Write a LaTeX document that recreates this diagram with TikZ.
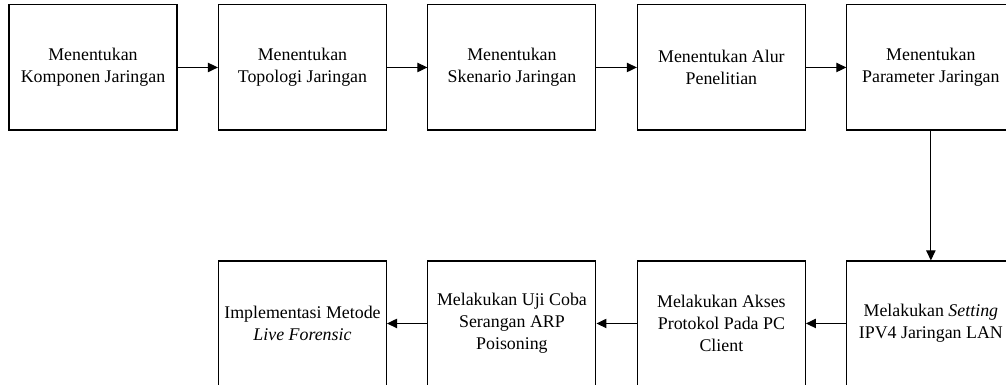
\documentclass[tikz,border=0pt]{standalone}
\usepackage{fontspec}
\setmainfont{Liberation Serif}
\usetikzlibrary{arrows.meta}
\newcommand{\s}{157.1pt}

\begin{document}
\begin{tikzpicture}[box/.style={draw, rectangle, minimum width=126pt, minimum height=93.75pt, align=center, inner sep=0pt, line width=0.8pt, font=\fontsize{13.4}{16.5}\selectfont},
    arrow/.style={-{Triangle[length=7.5pt,width=7pt]}, line width=0.8pt}]
    \useasboundingbox (0,0) rectangle (754.5pt,-288.75pt);
    % First row
    \node[box] (komponen) at (69.75pt+0*\s,-50.6pt) {Menentukan\\Komponen Jaringan};
    \node[box] (topologi) at (69.75pt+1*\s,-50.6pt) {Menentukan\\Topologi Jaringan};
    \node[box] (skenario) at (69.75pt+2*\s,-50.6pt) {Menentukan\\Skenario Jaringan};
    \node[box] (alur) at (69.75pt+3*\s,-50.6pt) {Menentukan Alur\\Penelitian};
    \node[box] (parameter) at (69.75pt+4*\s,-50.6pt) {Menentukan\\Parameter Jaringan};

    % Second row
    \node[box] (implementasi) at (69.75pt+1*\s,-242.6pt) {Implementasi Metode\\\textit{Live Forensic}};
    \node[box] (ujicoba) at (69.75pt+2*\s,-242.6pt) {Melakukan Uji Coba\\Serangan ARP\\Poisoning};
    \node[box] (akses) at (69.75pt+3*\s,-242.6pt) {Melakukan Akses\\Protokol Pada PC\\Client};
    \node[box] (setting) at (69.75pt+4*\s,-242.6pt) {Melakukan \textit{Setting}\\IPV4 Jaringan LAN};

    \draw[arrow] (komponen) -- (topologi);
    \draw[arrow] (topologi) -- (skenario);
    \draw[arrow] (skenario) -- (alur);
    \draw[arrow] (alur) -- (parameter);
    \draw[arrow] (parameter) -- (setting);
    \draw[arrow] (setting) -- (akses);
    \draw[arrow] (akses) -- (ujicoba);
    \draw[arrow] (ujicoba) -- (implementasi);

\end{tikzpicture}
\end{document}
